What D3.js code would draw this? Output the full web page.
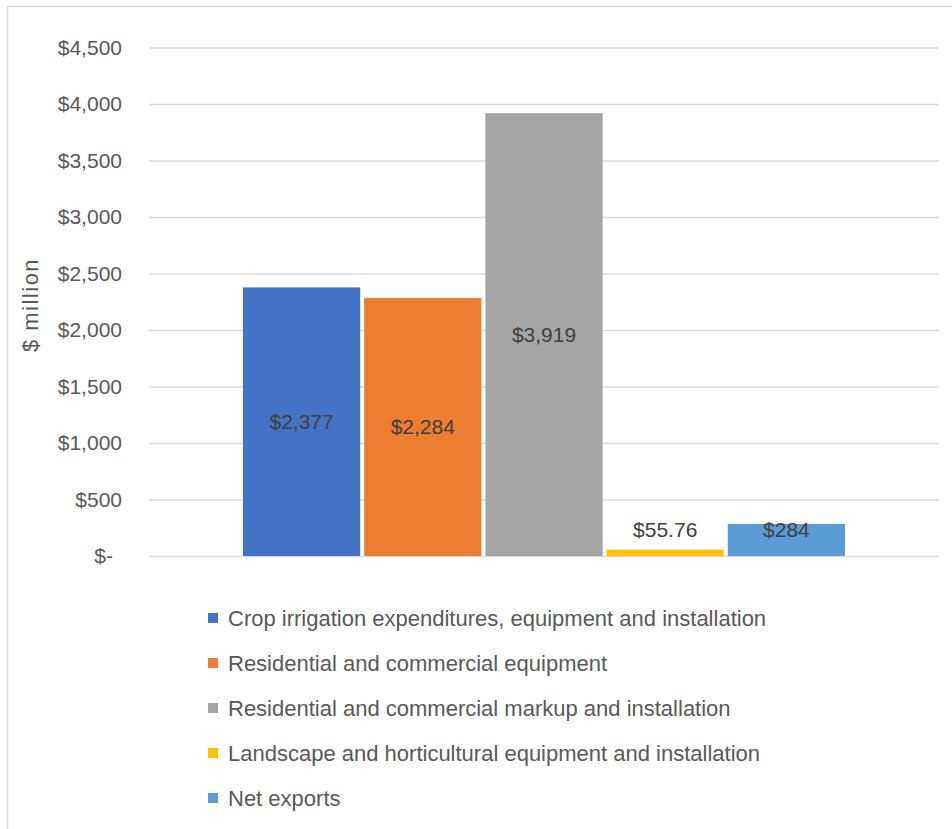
<!DOCTYPE html>
<html>
<head>
<meta charset="utf-8">
<script src="https://cdn.jsdelivr.net/npm/d3@7"></script>
<style>
  body { margin: 0; background: #fff; }
  text { font-family: "Liberation Sans", Arial, sans-serif; }
</style>
</head>
<body>
<div id="chart"></div>
<script>
// data
let seriesNames = [
  "Crop irrigation expenditures, equipment and installation",
  "Residential and commercial equipment",
  "Residential and commercial markup and installation",
  "Landscape and horticultural equipment and installation",
  "Net exports"
];
let seriesValues = [2377, 2284, 3919, 55.76, 284];
let valueLabels = ["$2,377", "$2,284", "$3,919", "$55.76", "$284"];
let yTicks = [0, 500, 1000, 1500, 2000, 2500, 3000, 3500, 4000, 4500];
let seriesColors = ["#4472C4", "#ED7D31", "#A5A5A5", "#FFC000", "#5B9BD5"];

let svgWidth = 952;
let svgHeight = 829;

let margin = { top: 47.5, left: 149, right: 13, bottom: 273 };
let width = svgWidth - margin.left - margin.right;
let height = svgHeight - margin.top - margin.bottom;

let svg = d3.select("#chart")
  .append("svg")
  .attr("width", svgWidth)
  .attr("height", svgHeight);

// outer chart border (only top and left show in the crop)
svg.append("path")
  .attr("d", `M7.5,${svgHeight} V6.5 H${svgWidth}`)
  .attr("fill", "none")
  .attr("stroke", "#d9d9d9")
  .attr("stroke-width", 1.5);

let chartGroup = svg.append("g")
  .attr("transform", `translate(${margin.left}, ${margin.top})`);

// scales
let yScale = d3.scaleLinear()
  .domain([0, 4500])
  .range([height, 0]);

let xScale = d3.scaleBand()
  .domain(seriesNames)
  .range([243 - margin.left, 845 - margin.left])
  .paddingInner(0.033);

// gridlines
let grid = chartGroup.append("g")
  .call(d3.axisLeft(yScale).tickValues(yTicks).tickSize(-width).tickFormat(""));
grid.select(".domain").remove();
grid.selectAll("line")
  .attr("stroke", "#d9d9d9")
  .attr("stroke-width", 1.5);

// y axis labels
let fmt = d3.format(",");
let yAxis = chartGroup.append("g")
  .call(d3.axisLeft(yScale)
    .tickValues(yTicks)
    .tickSize(0)
    .tickPadding(27)
    .tickFormat(d => d === 0 ? "$-" : "$" + fmt(d)));
yAxis.select(".domain").remove();
yAxis.selectAll("text")
  .attr("fill", "#595959")
  .attr("font-size", "21px")
  .attr("font-family", "Liberation Sans, Arial, sans-serif")
  .attr("dx", d => d === 0 ? -9 : 0);

// axis title
svg.append("text")
  .attr("transform", "rotate(-90)")
  .attr("x", -305)
  .attr("y", 30)
  .attr("dy", "0.35em")
  .attr("text-anchor", "middle")
  .attr("fill", "#595959")
  .attr("font-size", "22px")
  .attr("letter-spacing", "1.5px")
  .text("$ million");

// bars
chartGroup.selectAll(".bar")
  .data(seriesNames)
  .enter()
  .append("rect")
  .attr("class", "bar")
  .attr("x", d => xScale(d))
  .attr("width", xScale.bandwidth())
  .attr("y", (d, i) => yScale(seriesValues[i]))
  .attr("height", (d, i) => yScale(0) - yScale(seriesValues[i]))
  .attr("fill", (d, i) => seriesColors[i]);

// data labels, centred in bar but kept clear of the baseline
chartGroup.selectAll(".barLabel")
  .data(seriesNames)
  .enter()
  .append("text")
  .attr("class", "barLabel")
  .attr("x", d => xScale(d) + xScale.bandwidth() / 2)
  .attr("y", (d, i) => Math.min((yScale(seriesValues[i]) + yScale(0)) / 2, yScale(0) - 26))
  .attr("dy", "0.35em")
  .attr("text-anchor", "middle")
  .attr("fill", "#404040")
  .attr("font-size", "21px")
  .text((d, i) => valueLabels[i]);

// legend
let legend = svg.append("g")
  .attr("transform", "translate(208, 618)");

let legendItems = legend.selectAll(".legendItem")
  .data(seriesNames)
  .enter()
  .append("g")
  .attr("class", "legendItem")
  .attr("transform", (d, i) => `translate(0, ${i * 45})`);

legendItems.append("rect")
  .attr("x", 0)
  .attr("y", -5)
  .attr("width", 10)
  .attr("height", 10)
  .attr("fill", (d, i) => seriesColors[i]);

legendItems.append("text")
  .attr("x", 20)
  .attr("y", 0)
  .attr("dy", "0.35em")
  .attr("fill", "#595959")
  .attr("font-size", "22px")
  .text(d => d);
</script>
</body>
</html>
